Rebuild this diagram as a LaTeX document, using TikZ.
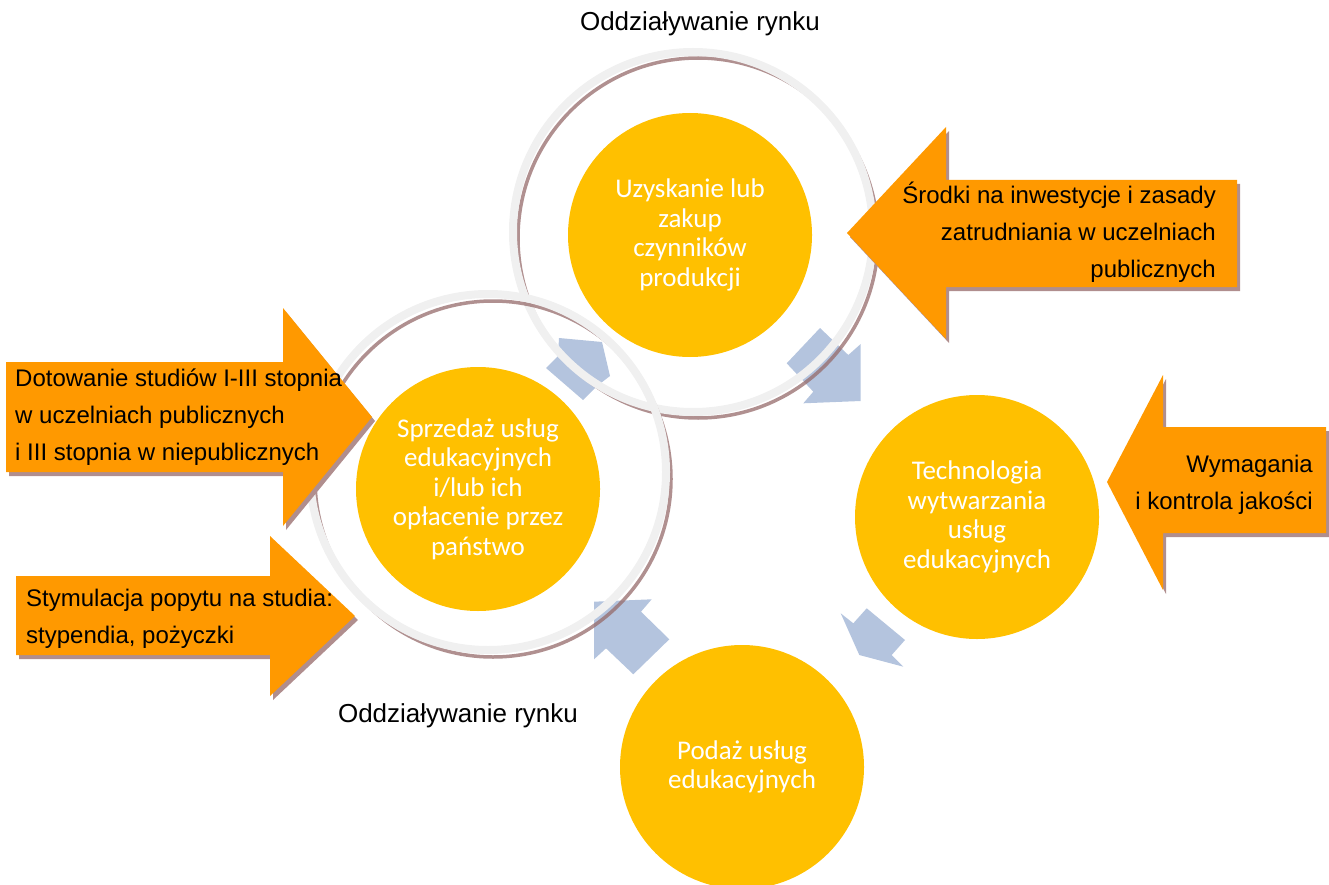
\documentclass[tikz,border=0pt]{standalone}
\usepackage{fontspec}
\setmainfont{Liberation Sans}
\newfontfamily\calib{Carlito}
\definecolor{yel}{HTML}{FFC000}
\definecolor{org}{HTML}{FF9900}
\definecolor{oshadow}{RGB}{176,142,142}
\definecolor{blu}{HTML}{B4C4DE}
\definecolor{ringgray}{HTML}{F0F0F0}
\definecolor{ringbrown}{RGB}{150,107,107}
\tikzset{
  yc/.style={circle, fill=yel, inner sep=0pt, minimum size=244pt, text=white, align=center,
    font=\calib\fontsize{27}{29.5}\selectfont},
  bluearrow/.style={fill=blu, draw=none},
  oarrow/.style={fill=org, draw=none},
  oshad/.style={fill=oshadow, draw=none},
  otext/.style={font=\fontsize{24}{37}\selectfont, text=black, inner sep=0pt},
  ringg/.style={draw=ringgray, line width=8pt},
  ringb/.style={draw=ringbrown, line width=3.5pt, opacity=0.75},
  market/.style={font=\fontsize{26}{30}\selectfont, inner sep=0pt}
}
\begin{document}
\begin{tikzpicture}[x=1pt,y=-1pt]
\useasboundingbox (0,0) rectangle (1329,885);
% blue arrows
\draw[bluearrow] (546,368) -- (558,356) -- (559,338) -- (602,342) -- (610,376) -- (597,386) -- (583,400) -- cycle;
\draw[bluearrow] (820,328) -- (786.7,363.3) -- (813.3,391.7) -- (803.3,403.3) -- (860.7,401) -- (860.7,344) -- (848.3,355) -- cycle;
\draw[bluearrow] (840.7,613.3) -- (853.3,623.3) -- (866.7,608.3) -- (905,640) -- (891.7,655) -- (903.3,666.7) -- (859.3,655) -- cycle;
\draw[bluearrow] (594,601.7) -- (651.7,599.3) -- (641,611.7) -- (669.3,639.3) -- (633.3,674.3) -- (606,648.3) -- (594,659.3) -- cycle;
% yellow circles
\node[yc] (top) at (690,235) {Uzyskanie lub\\zakup\\czynników\\produkcji};
\node[yc] (left) at (478,489) {Sprzedaż usług\\edukacyjnych\\i/lub ich\\opłacenie przez\\państwo};
\node[yc] (right) at (977,517) {Technologia\\wytwarzania\\usług\\edukacyjnych};
\node[yc] (bottom) at (742,767) {Podaż usług\\edukacyjnych};
% rings
\draw[ringb] (698,238) circle (180);
\draw[ringg] (693,232) circle (180);
\draw[ringb] (493,479) circle (178);
\draw[ringg] (488,472) circle (178);
% orange arrows
\draw[oshad,shift={(3,4)}] (6,362) -- (283,362) -- (283,308) -- (372,417) -- (283,526) -- (283,472) -- (6,472) -- cycle;
\draw[oarrow] (6,362) -- (283,362) -- (283,308) -- (372,417) -- (283,526) -- (283,472) -- (6,472) -- cycle;
\draw[oshad,shift={(3,4)}] (16,576) -- (270,576) -- (270,536) -- (355,616) -- (270,696) -- (270,655) -- (16,655) -- cycle;
\draw[oarrow] (16,576) -- (270,576) -- (270,536) -- (355,616) -- (270,696) -- (270,655) -- (16,655) -- cycle;
\draw[oshad,shift={(3,4)}] (1237,180) -- (946,180) -- (946,127) -- (847,233) -- (946,339) -- (946,287) -- (1237,287) -- cycle;
\draw[oarrow] (1237,180) -- (946,180) -- (946,127) -- (847,233) -- (946,339) -- (946,287) -- (1237,287) -- cycle;
\draw[oshad,shift={(3,4)}] (1326,427) -- (1163,427) -- (1163,375) -- (1107,482) -- (1163,590) -- (1163,533) -- (1326,533) -- cycle;
\draw[oarrow] (1326,427) -- (1163,427) -- (1163,375) -- (1107,482) -- (1163,590) -- (1163,533) -- (1326,533) -- cycle;
% orange texts
\node[otext, anchor=west, align=left] (t1) at (15,417) {Dotowanie studiów I-III stopnia\\w uczelniach publicznych\\i III stopnia w niepublicznych};
\node[otext, anchor=west, align=left] (t2) at (26,619) {Stymulacja popytu na studia:\\stypendia, pożyczki};
\node[otext, anchor=east, align=right] (t3) at (1216,232) {Środki na inwestycje i zasady\\zatrudniania w uczelniach\\publicznych};
\node[otext, anchor=east, align=right] (t4) at (1313,485) {Wymagania\\i kontrola jakości};
% market texts
\node[market] (m1) at (700,24) {Oddziaływanie rynku};
\node[market] (m2) at (458,716) {Oddziaływanie rynku};
\end{tikzpicture}
\end{document}
